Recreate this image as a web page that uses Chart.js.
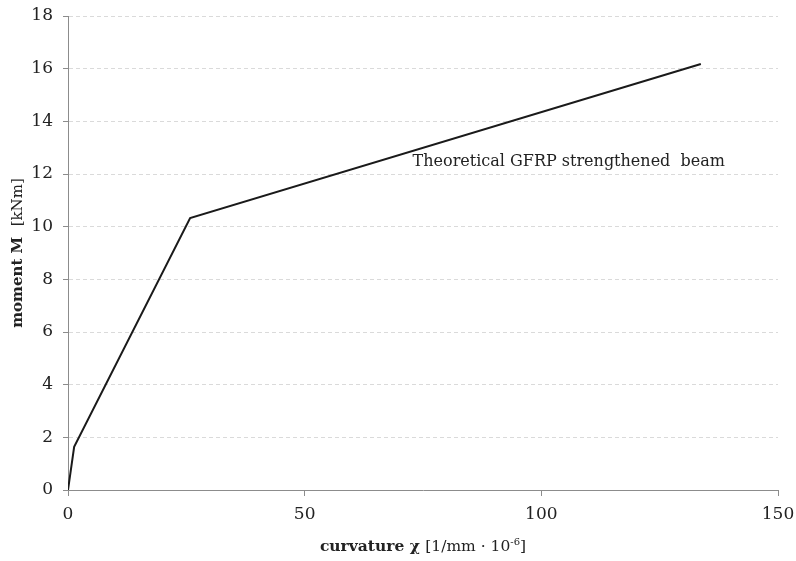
<!DOCTYPE html>
<html>
<head>
<meta charset="utf-8">
<script src="https://cdn.jsdelivr.net/npm/chart.js@4/dist/chart.umd.min.js"></script>
<style>
  html, body { margin: 0; padding: 0; background: #fff; }
  #wrap { width: 796px; height: 561px; }
</style>
</head>
<body>
<div id="wrap"><canvas id="chart" width="796" height="561"></canvas></div>
<script>
// curvature (1/mm * 10^-6) and moment (kNm)
const curvature = [0, 1.3, 25.8, 133.7];
const moment = [0, 1.64, 10.33, 16.18];
const yTicks = [0, 2, 4, 6, 8, 10, 12, 14, 16, 18];
const xTicks = [0, 50, 100, 150];
const seriesLabel = 'Theoretical GFRP strengthened  beam';
const labelAt = { x: 72.8, y: 12.45 };

const SERIF = '"DejaVu Serif", "Liberation Serif", serif';

// draws the mixed bold/normal axis titles and the curve label
const textPlugin = {
  id: 'textPlugin',
  afterDraw(chart) {
    const ctx = chart.ctx;
    const area = chart.chartArea;
    const xs = chart.scales.x, ys = chart.scales.y;
    ctx.save();
    ctx.fillStyle = '#222';
    ctx.textBaseline = 'middle';

    // curve label
    ctx.font = '16px ' + SERIF;
    ctx.textAlign = 'left';
    ctx.fillText(seriesLabel, xs.getPixelForValue(labelAt.x), ys.getPixelForValue(labelAt.y));

    // x title
    const parts = [
      { t: 'curvature χ ', f: 'bold 15.5px ' + SERIF, dy: 0 },
      { t: '[1/mm · 10', f: '15.5px ' + SERIF, dy: 0 },
      { t: '-6', f: '10px ' + SERIF, dy: -5 },
      { t: ']', f: '15.5px ' + SERIF, dy: 0 }
    ];
    let total = 0;
    parts.forEach(p => { ctx.font = p.f; p.w = ctx.measureText(p.t).width; total += p.w; });
    let x = (area.left + area.right) / 2 - total / 2;
    const y = 547;
    parts.forEach(p => { ctx.font = p.f; ctx.fillText(p.t, x, y + p.dy); x += p.w; });

    // y title (rotated)
    const yparts = [
      { t: 'moment M  ', f: 'bold 15px ' + SERIF },
      { t: '[kNm]', f: '15px ' + SERIF }
    ];
    let ytotal = 0;
    yparts.forEach(p => { ctx.font = p.f; p.w = ctx.measureText(p.t).width; ytotal += p.w; });
    ctx.translate(18, (area.top + area.bottom) / 2);
    ctx.rotate(-Math.PI / 2);
    let px = -ytotal / 2;
    yparts.forEach(p => { ctx.font = p.f; ctx.fillText(p.t, px, 0); px += p.w; });
    ctx.restore();
  }
};

new Chart(document.getElementById('chart'), {
  type: 'line',
  data: {
    datasets: [{
      label: seriesLabel,
      data: curvature.map((c, i) => ({ x: c, y: moment[i] })),
      borderColor: '#1a1a1a',
      borderWidth: 2,
      pointRadius: 0,
      tension: 0,
      fill: false
    }]
  },
  options: {
    responsive: false,
    animation: false,
    layout: { padding: { top: 16, right: 18, left: 0, bottom: 0 } },
    plugins: {
      legend: { display: false },
      tooltip: { enabled: false }
    },
    scales: {
      x: {
        type: 'linear',
        min: 0,
        max: 150,
        afterBuildTicks: s => { s.ticks = xTicks.map(v => ({ value: v })); },
        afterFit: s => { s.height = 71; s.paddingLeft = 0; s.paddingRight = 0; },
        border: { color: '#8c8c8c', width: 1 },
        grid: { drawOnChartArea: false, drawTicks: true, tickLength: 6, tickColor: '#8c8c8c' },
        ticks: { color: '#222', font: { family: SERIF, size: 17 }, padding: 8, maxRotation: 0 }
      },
      y: {
        type: 'linear',
        min: 0,
        max: 18,
        afterBuildTicks: s => { s.ticks = yTicks.map(v => ({ value: v })); },
        afterFit: s => { s.width = 68; s.paddingTop = 0; s.paddingBottom = 0; },
        border: { color: '#8c8c8c', width: 1, dash: [4, 3] },
        grid: {
          color: '#dadada',
          tickBorderDash: [],
          tickColor: '#8c8c8c',
          tickLength: 5,
          drawTicks: true
        },
        ticks: { color: '#222', font: { family: SERIF, size: 17 }, padding: 10 }
      }
    }
  },
  plugins: [textPlugin]
});
</script>
</body>
</html>
